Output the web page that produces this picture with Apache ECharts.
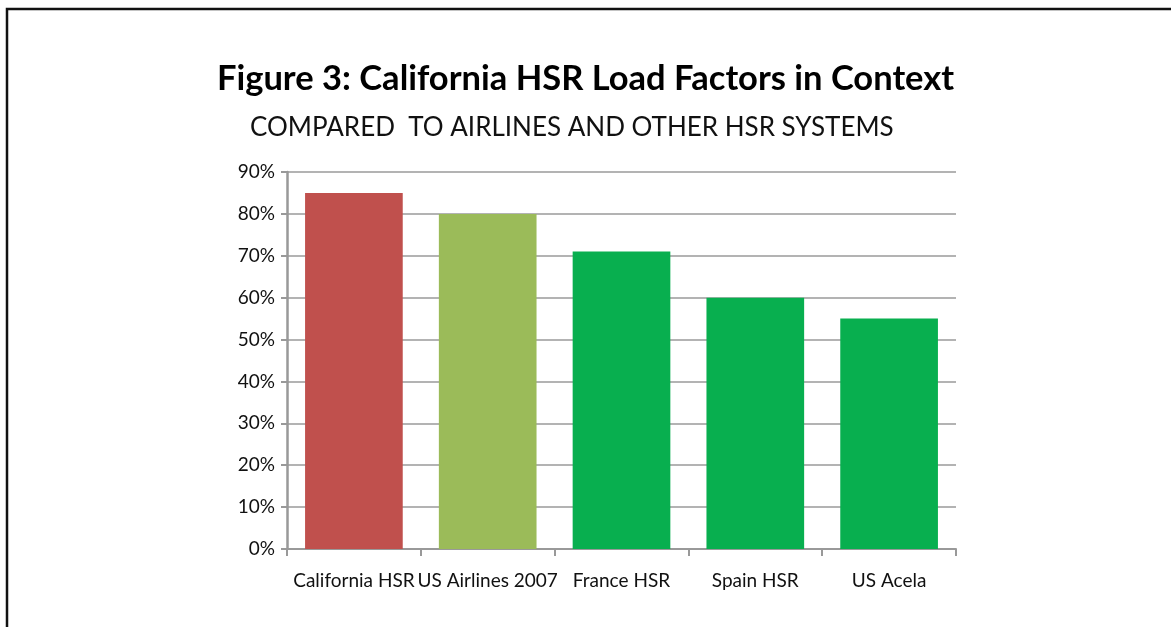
<!DOCTYPE html>
<html>
<head>
<meta charset="utf-8">
<script src="https://cdn.jsdelivr.net/npm/echarts@6/dist/echarts.min.js"></script>
<style>
  html, body { margin: 0; padding: 0; background: #fff; }
  #chart { width: 1171px; height: 627px; }
</style>
</head>
<body>
<div id="chart"></div>
<script>
var categories = ["California HSR", "US Airlines 2007", "France HSR", "Spain HSR", "US Acela"];
var loadFactors = [85, 80, 71, 60, 55];
var barColors = ["#C0504D", "#9BBB59", "#08AF4F", "#08AF4F", "#08AF4F"];

var chart = echarts.init(document.getElementById("chart"));

var option = {
  backgroundColor: "#fff",
  animation: false,
  // outer frame
  graphic: [
    {
      type: "rect",
      shape: { x: 7, y: 9, width: 1300, height: 800 },
      style: { fill: "none", stroke: "#111", lineWidth: 2.5 },
      z: 100
    }
  ],
  title: [
    {
      text: "Figure 3: California HSR Load Factors in Context",
      left: "center",
      top: 56,
      textStyle: { fontFamily: "Lato", fontWeight: "bold", fontSize: 34.5, color: "#000" }
    },
    {
      text: "COMPARED  TO AIRLINES AND OTHER HSR SYSTEMS",
      left: 245,
      top: 110,
      textStyle: { fontFamily: "Lato", fontWeight: "normal", fontSize: 26, color: "#111" }
    }
  ],
  grid: { left: 287, right: 215, top: 172, bottom: 78 },
  xAxis: {
    type: "category",
    data: categories,
    axisLine: { lineStyle: { color: "#999", width: 2 } },
    axisTick: { show: true, length: 7, lineStyle: { color: "#999", width: 2 } },
    axisLabel: { fontFamily: "Lato", fontSize: 19, color: "#111", margin: 22, interval: 0 }
  },
  yAxis: {
    type: "value",
    min: 0,
    max: 90,
    interval: 10,
    axisLine: { show: true, lineStyle: { color: "#999", width: 2.5 } },
    axisTick: { show: true, length: 6, lineStyle: { color: "#999", width: 2 } },
    axisLabel: {
      fontFamily: "Lato", fontSize: 19, color: "#111", margin: 12,
      formatter: function(v) { return v + "%"; }
    },
    splitLine: { lineStyle: { color: "#9a9a9a", width: 1.5 } }
  },
  series: [
    {
      type: "bar",
      barCategoryGap: "27%",
      data: loadFactors.map(function(v, i) {
        return { value: v, itemStyle: { color: barColors[i] } };
      })
    }
  ]
};

chart.setOption(option);
</script>
</body>
</html>
